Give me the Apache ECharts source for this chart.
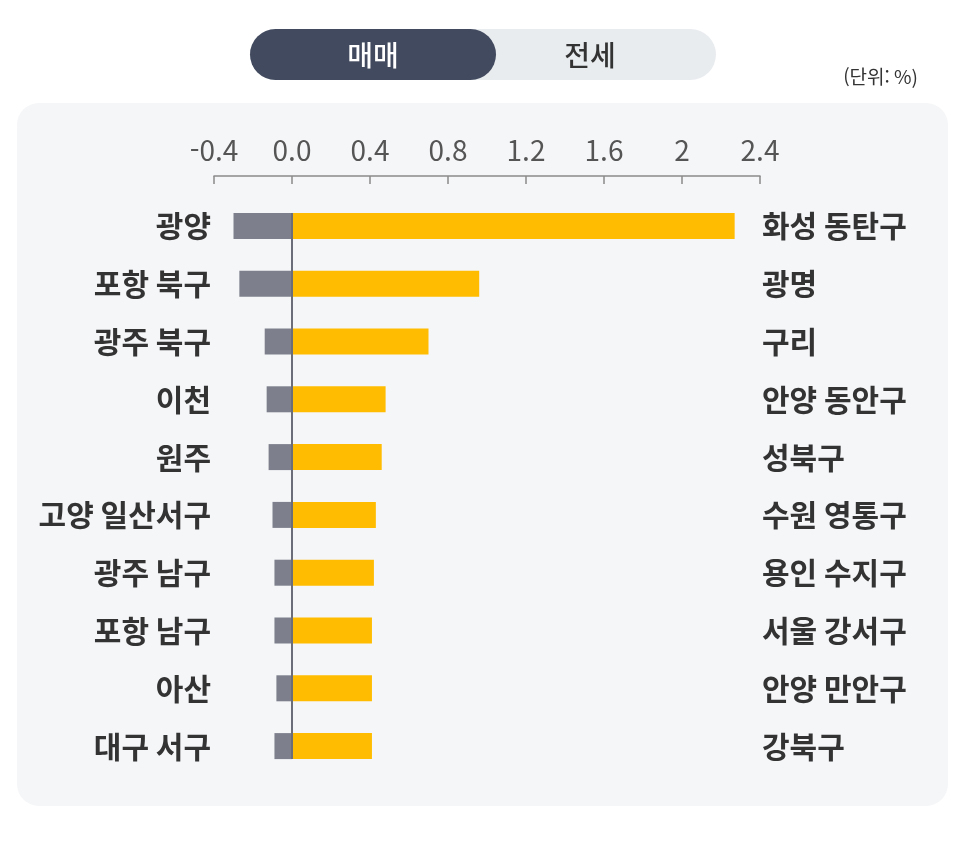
<!DOCTYPE html>
<html lang="ko">
<head>
    <meta charset="UTF-8">
    <title>매매 변동률</title>
    <script src="https://cdn.jsdelivr.net/npm/echarts@6/dist/echarts.min.js"></script>
    <style>
        html, body { margin: 0; padding: 0; background: #fff; }
    </style>
</head>
<body>
<div id="box" style="width: 966px;height: 855px;"></div>
<script>
    // 하락 지역 (왼쪽)
    var downNames = ['광양', '포항 북구', '광주 북구', '이천', '원주', '고양 일산서구', '광주 남구', '포항 남구', '아산', '대구 서구'];
    var downValues = [-0.30, -0.27, -0.14, -0.13, -0.12, -0.10, -0.09, -0.09, -0.08, -0.09];
    // 상승 지역 (오른쪽)
    var upNames = ['화성 동탄구', '광명', '구리', '안양 동안구', '성북구', '수원 영통구', '용인 수지구', '서울 강서구', '안양 만안구', '강북구'];
    var upValues = [2.27, 0.96, 0.70, 0.48, 0.46, 0.43, 0.42, 0.41, 0.41, 0.41];
    var tickLabels = ['-0.4', '0.0', '0.4', '0.8', '1.2', '1.6', '2', '2.4'];

    var font = '"Noto Sans CJK KR", "Noto Sans", sans-serif';
    var rowIdx = downNames.map(function (n, i) { return i; });

    var myChart = echarts.init(document.getElementById('box'));
    var option = {
        backgroundColor: '#ffffff',
        animation: false,
        graphic: [
            { type: 'rect', z: -10, shape: { x: 17, y: 103, width: 931, height: 703, r: 22 }, style: { fill: '#f5f6f8' } },
            { type: 'rect', shape: { x: 250, y: 29, width: 466, height: 51, r: 25.5 }, style: { fill: '#e9ecef' } },
            { type: 'rect', shape: { x: 250, y: 29, width: 246, height: 51, r: 25.5 }, style: { fill: '#414a5e' } },
            { type: 'text', x: 373, y: 55, style: { text: '매매', fill: '#fff', font: '500 28px ' + font, align: 'center', verticalAlign: 'middle' } },
            { type: 'text', x: 590, y: 55, style: { text: '전세', fill: '#333', font: '500 28px ' + font, align: 'center', verticalAlign: 'middle' } },
            { type: 'text', x: 918, y: 77, style: { text: '(단위: %)', fill: '#333', font: '19px ' + font, align: 'right', verticalAlign: 'middle' } }
        ],
        grid: { left: 214, right: 206, top: 197, bottom: 80 },
        xAxis: {
            type: 'value',
            position: 'top',
            offset: 21,
            min: -0.4,
            max: 2.4,
            interval: 0.4,
            splitLine: { show: false },
            axisLine: { show: true, lineStyle: { color: '#8a8a8a', width: 1.5 } },
            axisTick: { show: true, inside: true, length: 8, lineStyle: { color: '#8a8a8a', width: 1.5 } },
            axisLabel: {
                margin: 12,
                fontSize: 28,
                color: '#555',
                fontFamily: font,
                formatter: function (v) {
                    var i = Math.round((v + 0.4) / 0.4);
                    return tickLabels[i];
                }
            }
        },
        yAxis: [{
            type: 'category',
            inverse: true,
            data: downNames,
            axisLine: { show: false, onZero: false },
            axisTick: { show: false },
            axisLabel: { margin: 3, fontSize: 30, fontWeight: 'bold', color: '#333', fontFamily: font }
        }, {
            type: 'category',
            inverse: true,
            position: 'right',
            data: upNames,
            axisLine: { show: false, onZero: false },
            axisTick: { show: false },
            axisLabel: { margin: 2, fontSize: 30, fontWeight: 'bold', color: '#333', fontFamily: font }
        }],
        series: [{
            type: 'bar',
            data: downValues,
            barWidth: 26,
            barGap: '-100%',
            itemStyle: { color: '#7d808c' }
        }, {
            type: 'bar',
            data: upValues,
            barWidth: 26,
            itemStyle: { color: '#ffbc00' }
        }, {
            // 0 기준선: 첫 막대 위부터 마지막 막대 아래까지
            type: 'custom',
            z: 5,
            silent: true,
            data: [[0, 0]],
            renderItem: function (params, api) {
                var top = api.coord([0, rowIdx[0]]);
                var bot = api.coord([0, rowIdx[rowIdx.length - 1]]);
                var half = 13;
                return {
                    type: 'line',
                    shape: { x1: top[0], y1: top[1] - half, x2: bot[0], y2: bot[1] + half },
                    style: { stroke: '#6b6e78', lineWidth: 2 }
                };
            }
        }]
    };
    myChart.setOption(option);
</script>
</body>
</html>
